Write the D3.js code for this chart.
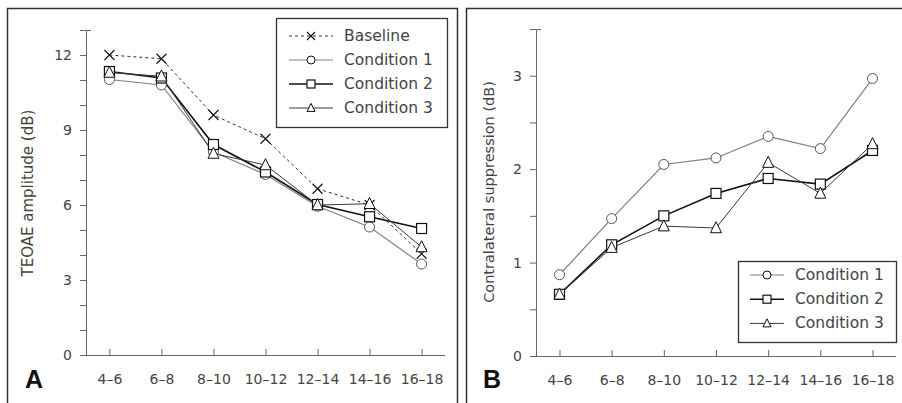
<!DOCTYPE html>
<html>
<head>
<meta charset="utf-8">
<script src="https://cdn.jsdelivr.net/npm/d3@7"></script>
<style>
	body { margin: 0; background: #fff; }
	svg { display: block; font-family: "DejaVu Sans", sans-serif; }
</style>
</head>
<body>
<svg id="chart" width="902" height="403"></svg>
<script>
var ageBands = ["4\u20136", "6\u20138", "8\u201310", "10\u201312", "12\u201314", "14\u201316", "16\u201318"];

// panel A: TEOAE amplitude (dB)
var ampBaseline = [12.0, 11.85, 9.6, 8.65, 6.65, 6.0, 4.05];
var ampCond1 = [11.02, 10.8, 8.12, 7.22, 5.95, 5.12, 3.64];
var ampCond2 = [11.34, 11.08, 8.42, 7.32, 6.02, 5.53, 5.06];
var ampCond3 = [11.3, 11.15, 8.06, 7.6, 6.0, 6.05, 4.32];

// panel B: contralateral suppression (dB)
var supCond1 = [0.87, 1.47, 2.05, 2.12, 2.35, 2.22, 2.97];
var supCond2 = [0.66, 1.19, 1.5, 1.74, 1.9, 1.84, 2.2];
var supCond3 = [0.66, 1.16, 1.39, 1.37, 2.07, 1.74, 2.27];

var svg = d3.select("#chart");
var frameColor = "#333";
var axisColor = "#666";
var textColor = "#444";

// outer frames
svg.append("path")
	.attr("d", "M7.5,403V8.5H457.5V403")
	.attr("fill", "none").attr("stroke", frameColor).attr("stroke-width", 1.5);
svg.append("path")
	.attr("d", "M466.5,403V8.5H905")
	.attr("fill", "none").attr("stroke", frameColor).attr("stroke-width", 1.5);

var styles = {
	base: { color: "#333", width: 1, dash: "3,3", marker: "x" },
	c1: { color: "#808080", width: 1.2, dash: null, marker: "circle" },
	c2: { color: "#111", width: 1.6, dash: null, marker: "square" },
	c3: { color: "#3a3a3a", width: 1, dash: null, marker: "triangle" }
};

function drawMarker(g, type, x, y, color, s) {
	if (type === "circle") {
		g.append("circle").attr("cx", x).attr("cy", y).attr("r", s)
			.attr("fill", "#fff").attr("stroke", color).attr("stroke-width", 1);
	} else if (type === "square") {
		g.append("rect").attr("x", x - s).attr("y", y - s).attr("width", 2 * s).attr("height", 2 * s)
			.attr("fill", "#fff").attr("stroke", color).attr("stroke-width", 1.2);
	} else if (type === "triangle") {
		var h = s * 1.15;
		g.append("path")
			.attr("d", "M" + x + "," + (y - h) + "L" + (x + s) + "," + (y + h * 0.75) + "L" + (x - s) + "," + (y + h * 0.75) + "Z")
			.attr("fill", "#fff").attr("stroke", color).attr("stroke-width", 1);
	} else if (type === "x") {
		g.append("path")
			.attr("d", "M" + (x - s) + "," + (y - s) + "L" + (x + s) + "," + (y + s) + "M" + (x + s) + "," + (y - s) + "L" + (x - s) + "," + (y + s))
			.attr("stroke", color).attr("stroke-width", 1.1);
	}
}

function drawPanel(opt) {
	var x = d3.scalePoint().domain(ageBands).range([opt.left, opt.right]).padding(0.45);
	var y = d3.scaleLinear().domain([0, opt.ymax]).range([opt.bottom, opt.top]);
	var g = svg.append("g");

	// y axis
	var yAxis = d3.axisLeft(y).tickValues(opt.yTicks).tickSize(6).tickPadding(8)
		.tickFormat(function(d) { return opt.yLabels.indexOf(d) >= 0 ? d : ""; });
	var ya = g.append("g").attr("transform", "translate(" + opt.left + ",0)").call(yAxis);
	ya.select(".domain").remove();
	ya.selectAll("line").attr("stroke", axisColor);
	ya.selectAll("text").attr("fill", textColor).style("font-size", "14px").style("font-family", "DejaVu Sans");
	g.append("path")
		.attr("d", "M" + (opt.left + 5) + "," + (y(opt.ymax) + 0.5) + "H" + (opt.left + 0.5) + "V" + (opt.bottom + 0.5))
		.attr("fill", "none").attr("stroke", axisColor);

	// x axis
	var xAxis = d3.axisBottom(x).tickSize(-6).tickPadding(19);
	var xa = g.append("g").attr("transform", "translate(0," + opt.bottom + ")").call(xAxis);
	xa.select(".domain").remove();
	xa.selectAll("line").attr("stroke", axisColor);
	xa.selectAll("text").attr("fill", textColor).style("font-size", "14px").style("font-family", "DejaVu Sans");
	g.append("line").attr("x1", opt.left).attr("x2", opt.right)
		.attr("y1", opt.bottom + 0.5).attr("y2", opt.bottom + 0.5).attr("stroke", axisColor);

	// y title
	g.append("text")
		.attr("transform", "translate(" + opt.titleX + "," + opt.titleY + ") rotate(-90)")
		.attr("text-anchor", "middle").attr("dominant-baseline", "central")
		.attr("fill", textColor).style("font-size", opt.titleSize)
		.text(opt.title);

	// panel letter
	g.append("text").attr("x", opt.letterX).attr("y", 388)
		.style("font-family", "Liberation Sans, Arial, sans-serif").style("font-weight", "bold")
		.style("font-size", "25px").attr("fill", "#111")
		.text(opt.letter);

	// series
	var line = d3.line().x(function(d, i) { return x(ageBands[i]); }).y(function(d) { return y(d); });
	opt.series.forEach(function(s) {
		var st = styles[s.key];
		g.append("path").datum(s.values).attr("d", line)
			.attr("fill", "none").attr("stroke", st.color).attr("stroke-width", st.width)
			.attr("stroke-dasharray", st.dash);
	});
	opt.series.forEach(function(s) {
		var st = styles[s.key];
		var mg = g.append("g");
		s.values.forEach(function(v, i) {
			drawMarker(mg, st.marker, x(ageBands[i]), y(v), st.color === "#808080" ? "#555" : "#111", st.marker === "triangle" ? 5.5 : 5);
		});
	});

	// legend
	var lg = g.append("g");
	lg.append("rect").attr("x", opt.legend.x + 0.5).attr("y", opt.legend.y + 0.5)
		.attr("width", opt.legend.w).attr("height", opt.legend.h)
		.attr("fill", "#fff").attr("stroke", frameColor).attr("stroke-width", 1.3);
	opt.series.forEach(function(s, i) {
		var st = styles[s.key];
		var cy = opt.legend.rowY + i * opt.legend.rowH;
		var x0 = opt.legend.x + opt.legend.lineX0, x1 = opt.legend.x + opt.legend.lineX1;
		lg.append("line").attr("x1", x0).attr("x2", x1).attr("y1", cy).attr("y2", cy)
			.attr("stroke", st.color).attr("stroke-width", st.width).attr("stroke-dasharray", st.dash);
		drawMarker(lg, st.marker, (x0 + x1) / 2, cy, "#111", 4);
		lg.append("text").attr("x", opt.legend.x + opt.legend.textX).attr("y", cy)
			.attr("dominant-baseline", "central").attr("fill", textColor)
			.style("font-size", "15.5px").text(s.name);
	});
}

drawPanel({
	left: 86, right: 445, top: 30, bottom: 355, ymax: 13,
	yTicks: d3.range(0, 14), yLabels: [0, 3, 6, 9, 12],
	title: "TEOAE amplitude (dB)", titleX: 28, titleY: 193, titleSize: "15px",
	letter: "A", letterX: 25,
	series: [
		{ key: "base", name: "Baseline", values: ampBaseline },
		{ key: "c1", name: "Condition 1", values: ampCond1 },
		{ key: "c2", name: "Condition 2", values: ampCond2 },
		{ key: "c3", name: "Condition 3", values: ampCond3 }
	],
	legend: { x: 276, y: 18, w: 171, h: 109, rowY: 36, rowH: 24, lineX0: 13, lineX1: 57, textX: 68 }
});

drawPanel({
	left: 536, right: 896, top: 29, bottom: 356, ymax: 3.5,
	yTicks: d3.range(0, 3.51, 0.5), yLabels: [0, 1, 2, 3],
	title: "Contralateral suppression (dB)", titleX: 489, titleY: 192, titleSize: "14.5px",
	letter: "B", letterX: 483,
	series: [
		{ key: "c1", name: "Condition 1", values: supCond1 },
		{ key: "c2", name: "Condition 2", values: supCond2 },
		{ key: "c3", name: "Condition 3", values: supCond3 }
	],
	legend: { x: 738, y: 261, w: 158, h: 81, rowY: 275, rowH: 24.2, lineX0: 12, lineX1: 46, textX: 57 }
});
</script>
</body>
</html>
